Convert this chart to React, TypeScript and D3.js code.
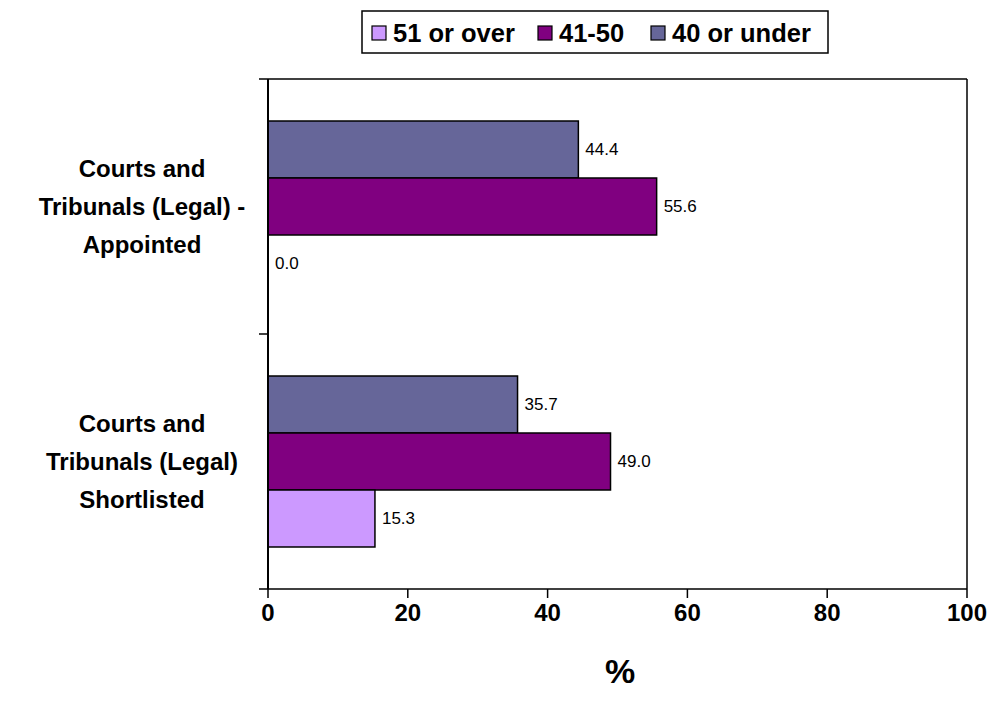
import React from "react";
import * as d3 from "d3";

const categories = ["Courts and Tribunals (Legal) - Appointed", "Courts and Tribunals (Legal) Shortlisted"];
const categoryLines = [
  ["Courts and", "Tribunals (Legal) -", "Appointed"],
  ["Courts and", "Tribunals (Legal)", "Shortlisted"],
];
const seriesNames = ["40 or under", "41-50", "51 or over"];
const legendOrder = ["51 or over", "41-50", "40 or under"];
const under40 = [44.4, 35.7];
const from41to50 = [55.6, 49.0];
const over51 = [0.0, 15.3];
const xTicks = [0, 20, 40, 60, 80, 100];
const colors: Record<string, string> = {
  "40 or under": "#666699",
  "41-50": "#800080",
  "51 or over": "#CC99FF",
};

const FONT = "'Liberation Sans', Arial, sans-serif";

export default function App() {
  const W = 992, H = 715;
  const left = 268, right = 967, top = 79, bottom = 589;
  const x = d3.scaleLinear().domain([0, 100]).range([left, right]);
  const y = d3.scaleBand<string>().domain(categories).range([top, bottom]).padding(0);
  const inner = d3.scaleBand<string>().domain(seriesNames).range([0, y.bandwidth()]).paddingInner(0).paddingOuter(0.737);
  const valuesBySeries: Record<string, number[]> = {
    "40 or under": under40,
    "41-50": from41to50,
    "51 or over": over51,
  };
  const legendPos = [
    { sw: 372, tx: 393 },
    { sw: 538, tx: 559 },
    { sw: 651, tx: 672 },
  ];
  return (
    <svg width={W} height={H} style={{ position: "absolute", left: 0, top: 0, background: "#fff" }}>
      <rect x={0} y={0} width={W} height={H} fill="#fff" />
      {/* bars */}
      {categories.map((c, ci) =>
        seriesNames.map((s) => {
          const v = valuesBySeries[s][ci];
          const by = (y(c) as number) + (inner(s) as number);
          const bh = inner.bandwidth();
          return (
            <g key={c + s}>
              {v > 0 && (
                <rect x={x(0)} y={by} width={x(v) - x(0)} height={bh} fill={colors[s]} stroke="#000" strokeWidth={1.5} />
              )}
              <text x={x(v) + 7} y={by + bh / 2} dominantBaseline="central" fontFamily={FONT} fontSize={17} fill="#000">
                {v.toFixed(1)}
              </text>
            </g>
          );
        })
      )}
      {/* plot frame */}
      <line x1={left} x2={right} y1={top} y2={top} stroke="#000" strokeWidth={1.5} />
      <line x1={right} x2={right} y1={top} y2={bottom} stroke="#000" strokeWidth={1.5} />
      <line x1={left} x2={right} y1={bottom} y2={bottom} stroke="#000" strokeWidth={1.5} />
      <line x1={left} x2={left} y1={top} y2={bottom} stroke="#000" strokeWidth={2} />
      {/* y ticks */}
      {[top, ...categories.map((c) => (y(c) as number) + y.bandwidth())].map((ty, i) => (
        <line key={i} x1={left - 9} x2={left} y1={ty} y2={ty} stroke="#000" strokeWidth={1.5} />
      ))}
      {/* x ticks */}
      {xTicks.map((t) => (
        <g key={t}>
          <line x1={x(t)} x2={x(t)} y1={bottom} y2={bottom + 9} stroke="#000" strokeWidth={1.5} />
          <text x={x(t)} y={621} textAnchor="middle" fontFamily={FONT} fontWeight="bold" fontSize={24} fill="#000">
            {t}
          </text>
        </g>
      ))}
      <text x={620} y={683} textAnchor="middle" fontFamily={FONT} fontWeight="bold" fontSize={34} fill="#000">
        %
      </text>
      {/* category labels */}
      {categories.map((c, ci) => {
        const cy = (y(c) as number) + y.bandwidth() / 2;
        const lines = categoryLines[ci];
        return lines.map((ln, li) => (
          <text key={c + li} x={142} y={cy + (li - (lines.length - 1) / 2) * 38} dominantBaseline="central" textAnchor="middle" fontFamily={FONT} fontWeight="bold" fontSize={24} fill="#000">
            {ln}
          </text>
        ));
      })}
      {/* legend */}
      <rect x={362} y={11} width={466} height={42} fill="#fff" stroke="#000" strokeWidth={1.5} />
      {legendOrder.map((s, i) => (
        <g key={s}>
          <rect x={legendPos[i].sw} y={26} width={14} height={14} fill={colors[s]} stroke="#000" strokeWidth={1.2} />
          <text x={legendPos[i].tx} y={33} dominantBaseline="central" fontFamily={FONT} fontWeight="bold" fontSize={25.5} fill="#000">
            {s}
          </text>
        </g>
      ))}
    </svg>
  );
}
